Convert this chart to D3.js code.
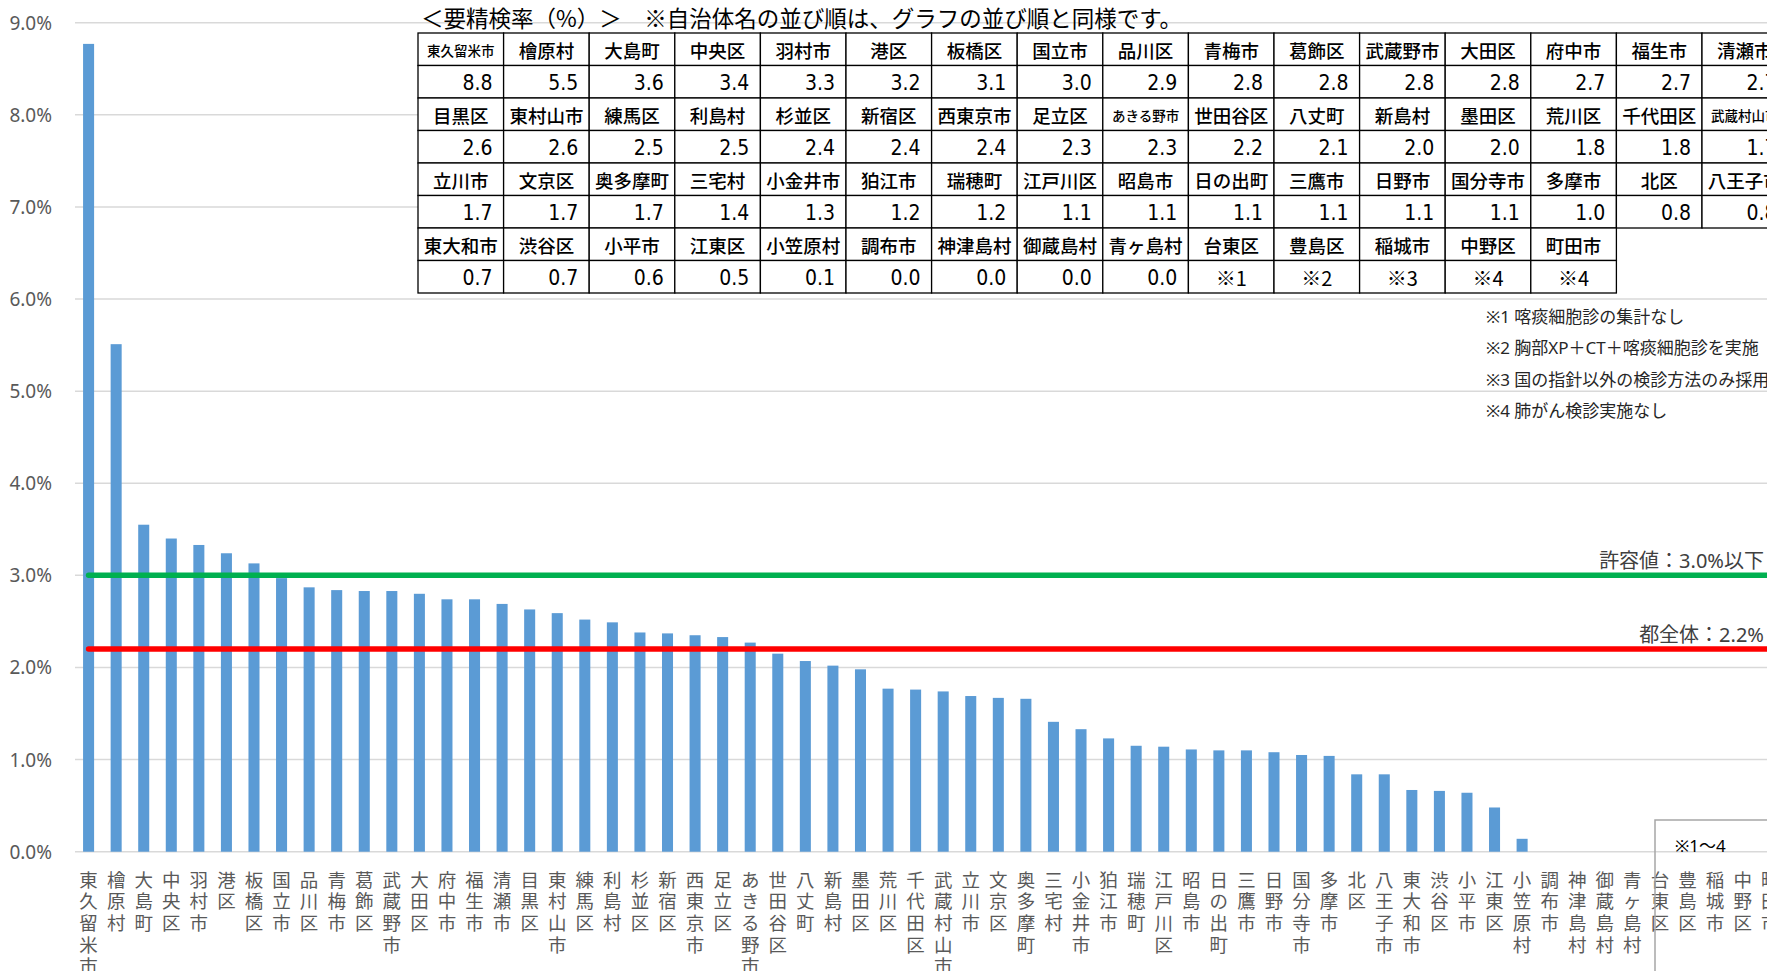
<!DOCTYPE html>
<html>
<head>
<meta charset="utf-8">
<title>要精検率</title>
<style>
  body { margin: 0; background: #fff; }
  svg { display: block; font-family: "Noto Sans", "Noto Sans CJK JP", sans-serif; }
  .grid line { stroke: #d9d9d9; stroke-width: 1.5px; }
  .ylab { fill: #595959; font-size: 19px; }
  .xlab { fill: #595959; font-size: 18.5px; font-family: "Noto Sans CJK JP", sans-serif; }
  .bar { fill: #5b9bd5; }
  .tbl rect { fill: #fff; stroke: #000; stroke-width: 1.3px; }
  .tbl text { fill: #000; font-family: "Noto Sans CJK JP", sans-serif; }
  .tbl text.name { font-weight: 500; }
  .tbl text.num { font-family: "Liberation Sans Narrow", "DejaVu Sans Condensed", sans-serif; font-size: 21px; }
  .note { fill: #262626; font-size: 17px; font-family: "Noto Sans", "Noto Sans CJK JP", sans-serif; }
  .reflabel { fill: #404040; font-size: 20px; }
</style>
</head>
<body>
<div id="chart"></div>
<script src="https://cdn.jsdelivr.net/npm/d3@7"></script>
<script>
// 自治体名（グラフ・表とも同じ並び順）
const municipalities = [
  "東久留米市","檜原村","大島町","中央区","羽村市","港区","板橋区","国立市","品川区","青梅市","葛飾区","武蔵野市","大田区","府中市","福生市","清瀬市",
  "目黒区","東村山市","練馬区","利島村","杉並区","新宿区","西東京市","足立区","あきる野市","世田谷区","八丈町","新島村","墨田区","荒川区","千代田区","武蔵村山市",
  "立川市","文京区","奥多摩町","三宅村","小金井市","狛江市","瑞穂町","江戸川区","昭島市","日の出町","三鷹市","日野市","国分寺市","多摩市","北区","八王子市",
  "東大和市","渋谷区","小平市","江東区","小笠原村","調布市","神津島村","御蔵島村","青ヶ島村","台東区","豊島区","稲城市","中野区","町田市"
];

// 要精検率（%）棒の値、null は集計対象外（※1～4）
const rates = [
  8.77, 5.51, 3.55, 3.40, 3.33, 3.24, 3.13, 2.97, 2.87, 2.84, 2.83, 2.83, 2.80, 2.74, 2.74, 2.69,
  2.63, 2.59, 2.52, 2.49, 2.38, 2.37, 2.35, 2.33, 2.27, 2.15, 2.07, 2.02, 1.98, 1.77, 1.76, 1.74,
  1.69, 1.67, 1.66, 1.41, 1.33, 1.23, 1.15, 1.14, 1.11, 1.10, 1.10, 1.08, 1.05, 1.04, 0.84, 0.84,
  0.67, 0.66, 0.64, 0.48, 0.14, 0, 0, 0, 0, null, null, null, null, null
];

// 表に載っている値
const tableValues = [
  "8.8","5.5","3.6","3.4","3.3","3.2","3.1","3.0","2.9","2.8","2.8","2.8","2.8","2.7","2.7","2.7",
  "2.6","2.6","2.5","2.5","2.4","2.4","2.4","2.3","2.3","2.2","2.1","2.0","2.0","1.8","1.8","1.7",
  "1.7","1.7","1.7","1.4","1.3","1.2","1.2","1.1","1.1","1.1","1.1","1.1","1.1","1.0","0.8","0.8",
  "0.7","0.7","0.6","0.5","0.1","0.0","0.0","0.0","0.0","※1","※2","※3","※4","※4"
];

const yTicks = [0, 1, 2, 3, 4, 5, 6, 7, 8, 9];
const refLines = [
  { label: "許容値：3.0%以下", value: 3.0, color: "#00b050" },
  { label: "都全体：2.2%", value: 2.2, color: "#ff0000" }
];
const tableTitle = "＜要精検率（%）＞　※自治体名の並び順は、グラフの並び順と同様です。";
const notes = [
  "※1 喀痰細胞診の集計なし",
  "※2 胸部XP＋CT＋喀痰細胞診を実施",
  "※3 国の指針以外の検診方法のみ採用",
  "※4 肺がん検診実施なし"
];
const boxNote = "※1～4";

const width = 1767, height = 971;
const perRow = 16;

const svg = d3.select("#chart").append("svg")
  .attr("width", width)
  .attr("height", height)
  .style("overflow", "hidden");

const x = d3.scaleBand()
  .domain(municipalities)
  .range([74.8, 1784])
  .paddingInner(0.6)
  .paddingOuter(0.3);

const y = d3.scaleLinear().domain([0, 9]).range([851.7, 22.7]);

// gridlines
svg.append("g").attr("class", "grid")
  .selectAll("line").data(yTicks).join("line")
  .attr("x1", 75).attr("x2", width)
  .attr("y1", d => y(d)).attr("y2", d => y(d));

svg.append("g")
  .selectAll("text").data(yTicks).join("text")
  .attr("class", "ylab")
  .attr("x", 52)
  .attr("y", d => y(d))
  .attr("text-anchor", "end")
  .attr("dominant-baseline", "central")
  .text(d => d.toFixed(1) + "%");

// bars
svg.append("g")
  .selectAll("rect")
  .data(municipalities.map((m, i) => ({ name: m, v: rates[i] })).filter(d => d.v))
  .join("rect")
  .attr("class", "bar")
  .attr("x", d => x(d.name))
  .attr("width", x.bandwidth())
  .attr("y", d => y(d.v))
  .attr("height", d => y(0) - y(d.v));

// x labels, one character per line
const xl = svg.append("g")
  .selectAll("text").data(municipalities).join("text")
  .attr("class", "xlab")
  .attr("text-anchor", "middle");
xl.selectAll("tspan")
  .data(d => Array.from(d).map(c => ({ c, cx: x(d) + x.bandwidth() / 2 })))
  .join("tspan")
  .attr("x", d => d.cx)
  .attr("y", (d, k) => 878.5 + k * 21.7)
  .attr("dominant-baseline", "central")
  .text(d => d.c);

// reference lines
const first = municipalities[0], last = municipalities[municipalities.length - 1];
svg.append("g")
  .selectAll("line").data(refLines).join("line")
  .attr("x1", x(first) + x.bandwidth() / 2)
  .attr("x2", x(last) + x.bandwidth() / 2)
  .attr("y1", d => y(d.value)).attr("y2", d => y(d.value))
  .attr("stroke", d => d.color)
  .attr("stroke-width", 5.5)
  .attr("stroke-linecap", "round");

svg.append("g")
  .selectAll("text").data(refLines).join("text")
  .attr("class", "reflabel")
  .attr("x", 1764)
  .attr("y", d => y(d.value) - 15)
  .attr("text-anchor", "end")
  .attr("dominant-baseline", "central")
  .text(d => d.label);

// table
const col = d3.scaleBand().domain(d3.range(perRow)).range([418, 418 + perRow * 85.6]);
const row = d3.scaleBand().domain(d3.range(8)).range([33, 33 + 8 * 32.5]);

svg.append("text")
  .attr("x", 421).attr("y", 17)
  .attr("dominant-baseline", "central")
  .style("font-family", "'Noto Sans CJK JP', sans-serif")
  .style("font-size", "22.5px")
  .attr("fill", "#000")
  .text(tableTitle);

const cells = [];
municipalities.forEach((m, i) => {
  const c = i % perRow, r = Math.floor(i / perRow) * 2;
  cells.push({ c, r, text: m, kind: "name" });
  cells.push({ c, r: r + 1, text: tableValues[i], kind: tableValues[i].startsWith("※") ? "mark" : "num" });
});

const tbl = svg.append("g").attr("class", "tbl");
tbl.selectAll("rect").data(cells).join("rect")
  .attr("x", d => col(d.c)).attr("y", d => row(d.r))
  .attr("width", col.bandwidth()).attr("height", row.bandwidth());

tbl.selectAll("text").data(cells).join("text")
  .attr("class", d => d.kind)
  .attr("x", d => d.kind === "num" ? col(d.c) + col.bandwidth() - 11 : col(d.c) + col.bandwidth() / 2)
  .attr("y", d => row(d.r) + row.bandwidth() / 2 + 1)
  .attr("text-anchor", d => d.kind === "num" ? "end" : "middle")
  .attr("dominant-baseline", "central")
  .style("font-size", d => d.kind === "name" ? (d.text.length >= 5 ? "13.5px" : "18.5px") : d.kind === "mark" ? "20px" : null)
  .text(d => d.text);

// notes
svg.append("g")
  .selectAll("text").data(notes).join("text")
  .attr("class", "note")
  .attr("x", 1486)
  .attr("y", (d, k) => 316 + k * 31.6)
  .attr("dominant-baseline", "central")
  .text(d => d);

// box for ※1～4
svg.append("rect")
  .attr("x", 1655).attr("y", 820)
  .attr("width", 200).attr("height", 200)
  .attr("fill", "none")
  .attr("stroke", "#a6a6a6")
  .attr("stroke-width", 1.5);
svg.append("text")
  .attr("x", 1675).attr("y", 845)
  .attr("dominant-baseline", "central")
  .style("font-size", "17px")
  .attr("fill", "#000")
  .text(boxNote);
</script>
</body>
</html>
